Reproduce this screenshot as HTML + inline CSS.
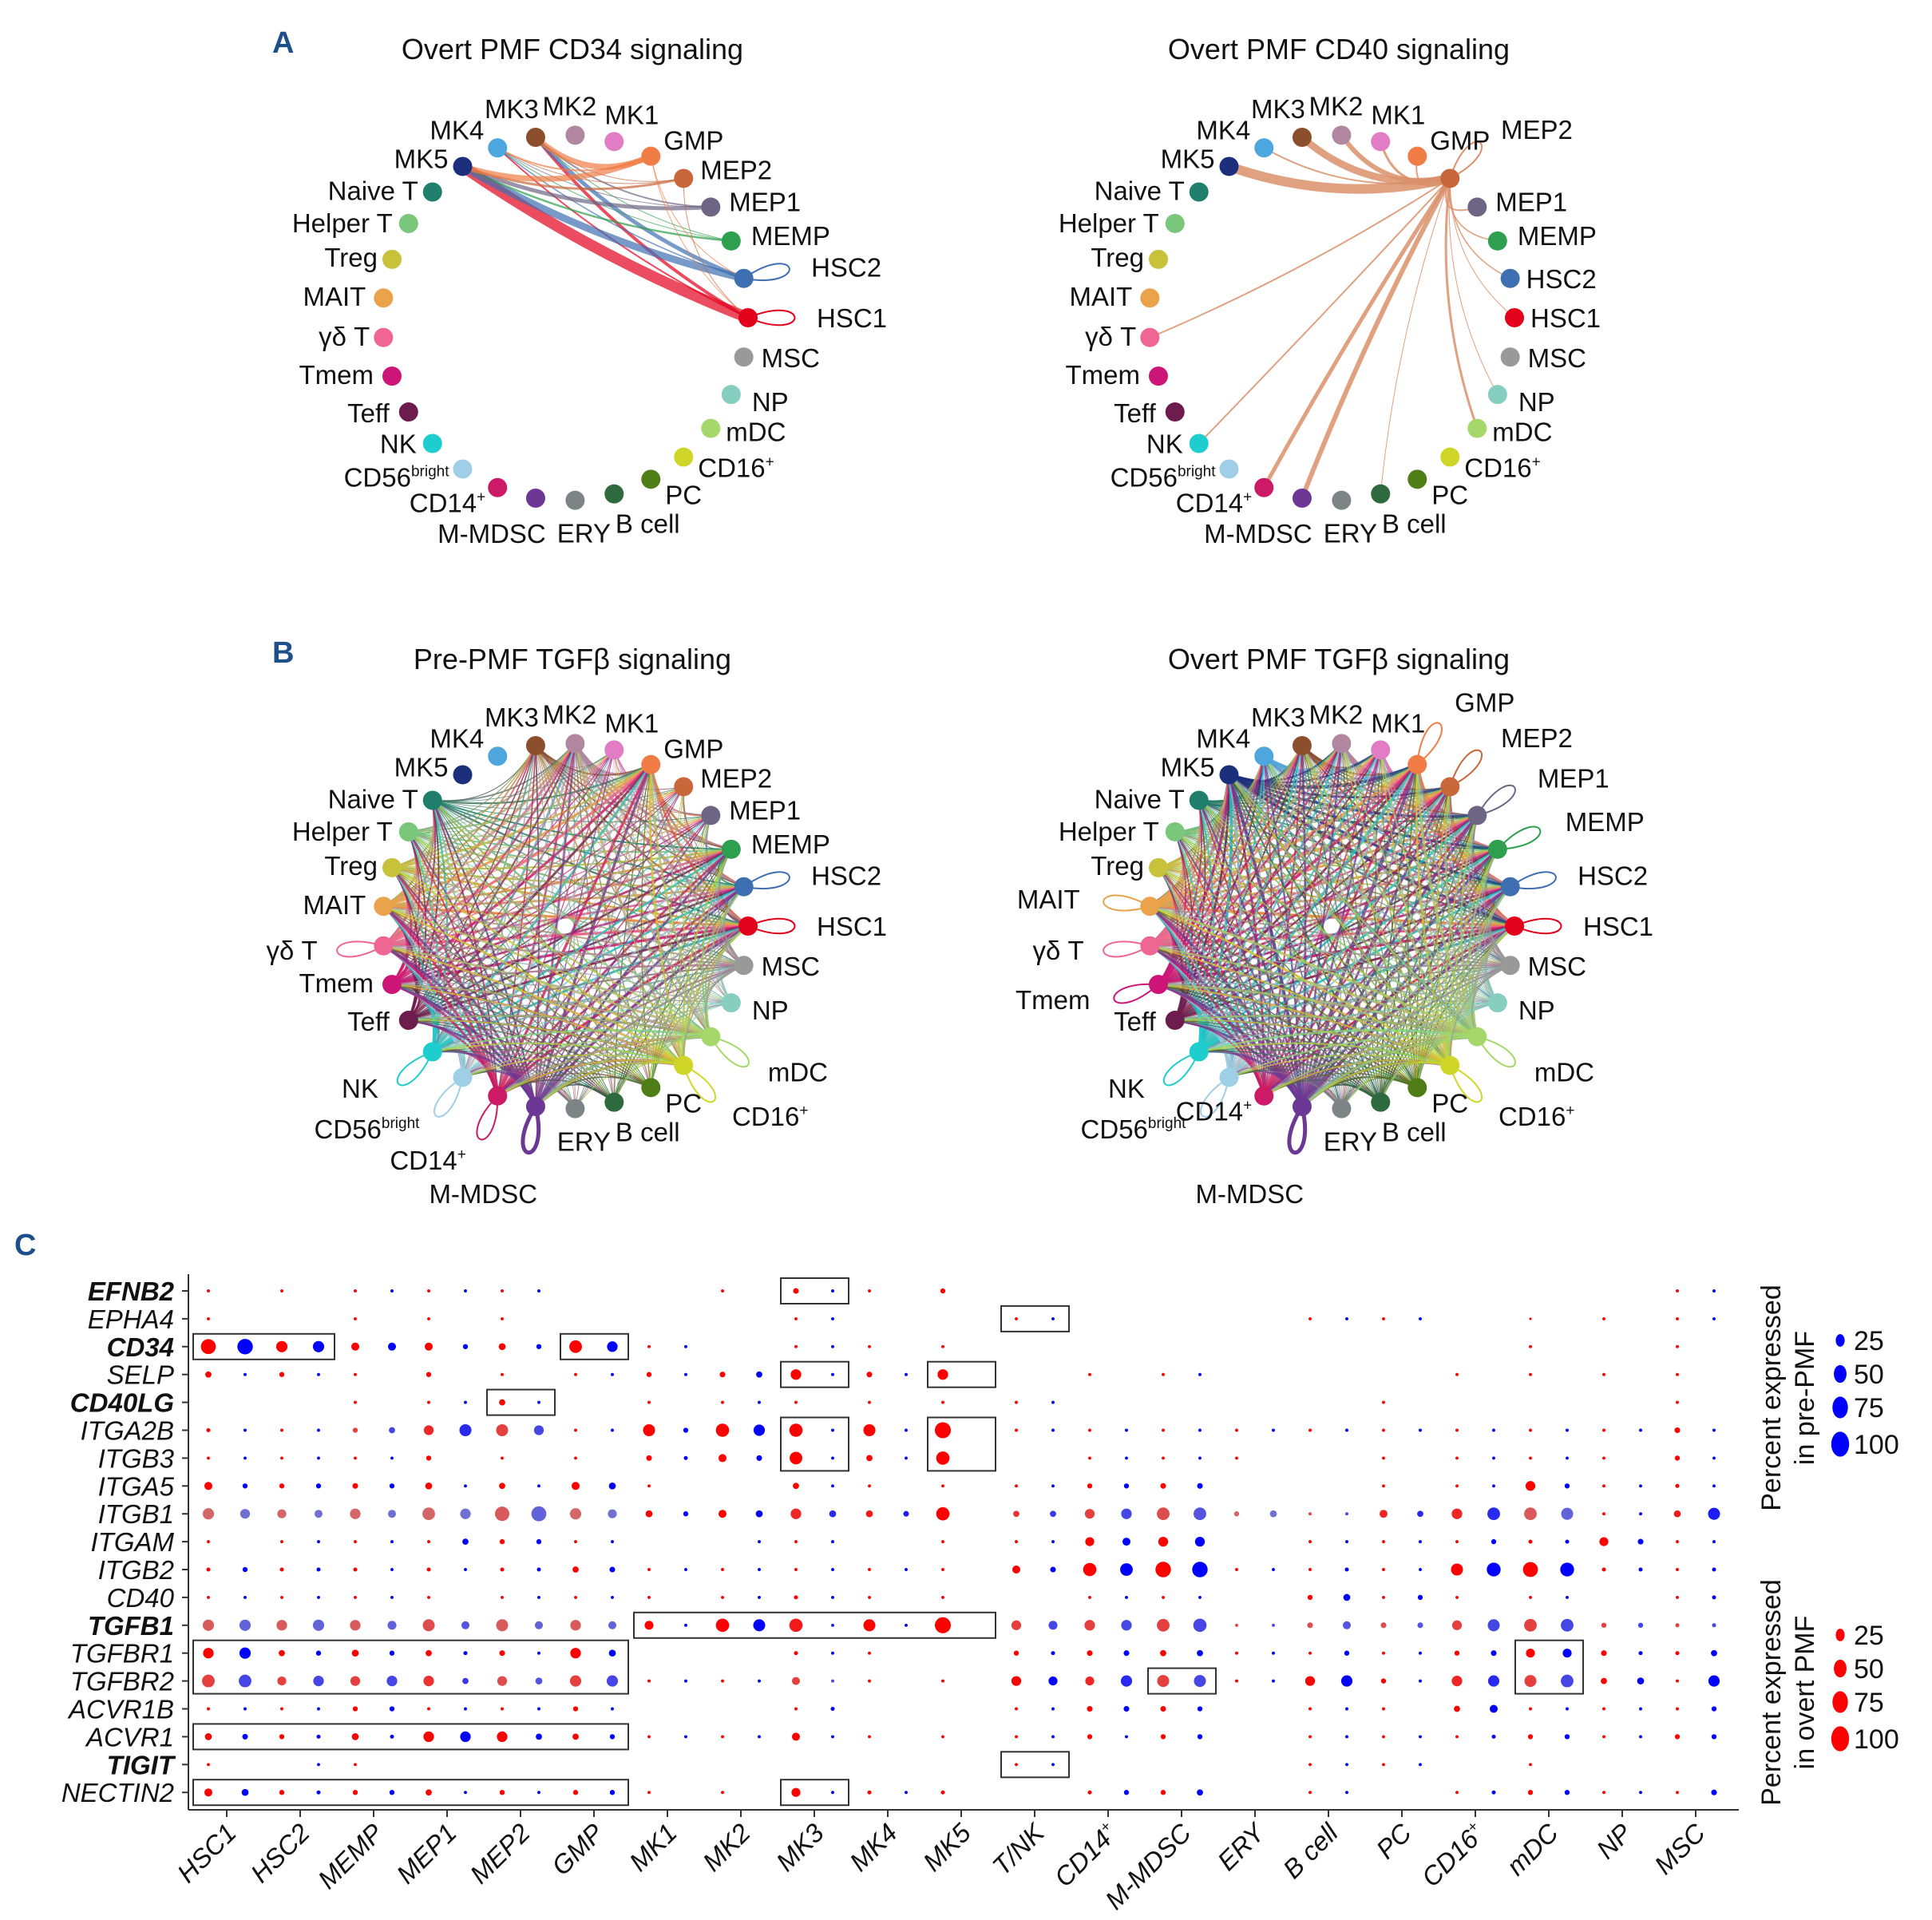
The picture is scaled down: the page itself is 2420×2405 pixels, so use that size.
<!DOCTYPE html>
<html><head><meta charset="utf-8">
<style>
html,body{margin:0;padding:0;background:#fff;}
svg{display:block;font-family:"Liberation Sans",Arial,sans-serif;}
</style></head>
<body>
<svg id="fig" xmlns="http://www.w3.org/2000/svg" width="2420" height="2405" viewBox="0 0 2420 2405">
<rect x="0" y="0" width="2420" height="2405" fill="#fff"/>
<g id="netLayer"></g>
<g id="dotLayer"></g>
</svg>
<script>
// ===== Network data =====
const cellNames = ["HSC1","HSC2","MEMP","MEP1","MEP2","GMP","MK1","MK2","MK3","MK4","MK5","Naive T","Helper T","Treg","MAIT","γδ T","Tmem","Teff","NK","CD56|bright","CD14|+","M-MDSC","ERY","B cell","PC","CD16|+","mDC","NP","MSC"];
const cellColors = ["#e3001b","#3e6fb0","#2e9e4f","#6e6585","#c8673a","#f07c46","#e07dc4","#b0879f","#8b4f2e","#4ea6df","#1c2f7c","#1f7f6a","#78c77a","#c8c23a","#eaa34a","#ef6692","#cc1577","#6c1d4d","#1ecdcd","#9fcfe6","#cd1a66","#6c3795","#7c8486","#2e6a3d","#4f7d16","#cfd628","#a4d86b","#86cec0","#999999"];
// label placement relative to node (layout, not data)
const labDX = [20,20,25,23,21,16,22,-7,-30,-17,-18,-18,-20,-18,-22,-17,-23,-24,-20,-17,-15,-55,11,42,18,18,19,26,22];
const labDY = [12,12,5,5,1,-8,-22,-25,-24,-11,2,10,11,9,10,10,10,13,12,22,31,56,53,49,31,25,16,21,13];
const labAnchor = ["start","start","start","start","start","start","middle","middle","middle","end","end","end","end","end","end","end","end","end","end","end","end","middle","middle","middle","start","start","start","start","start"];
// CD34 edges: from, to, width
const cd34From = [0,0,0,1,1,1,2,2,2,3,3,3,4,4,4,5,5,5,5,5,4];
const cd34To   = [10,8,9,10,8,9,10,8,9,10,8,9,10,8,9,10,8,9,0,1,0];
const cd34W    = [14,4,2,9,5,1.5,2.5,1,1,5,2,1,3,1,1,7,7,2,1,1,1];
const cd34Loops = [1,0];
// CD40 edges from MEP2
const cd40From = [4,4,4,4,4,4,4,4,4,4,4,4,4,4,4,4,4];
const cd40To   = [10,9,8,7,6,5,3,2,1,0,27,26,23,21,20,18,15];
const cd40W    = [12,2,9,6,3,2,2,1.5,1.5,1,1,3,1,6,5,2,2];
const cd40Loops = [4];
// TGFb pre / overt sender & receiver strengths
const preSend = [.6,.5,.6,.2,.2,.8,.3,1,.5,0,0,.6,.6,.7,.9,.9,.9,.8,.8,.6,.9,.9,.2,.3,.3,.6,.6,.3,.5];
const preRecv = [1,.8,.8,.4,.3,.9,.3,.4,.3,0,0,.5,.5,.6,.8,.9,.8,.7,.8,.6,.8,.9,.3,.4,.4,.8,.8,.3,.6];
const preLoops = [0,1,15,18,19,20,21,25,26];
const overtSend = [.8,.6,.6,.6,.6,.9,.5,.5,.5,.6,1,.5,.5,.5,.9,.8,.9,.7,.9,.6,.7,1,.3,.4,.4,.6,.8,.4,.5];
const overtRecv = [1,.8,.8,.8,.7,1,.6,.6,.6,.5,.8,.5,.5,.4,.9,.8,.9,.7,.8,.6,.7,1,.4,.4,.5,.8,1,.4,.5];
const overtLoops = [5,4,3,2,1,0,14,15,16,18,19,21,26,25];

const NS = "http://www.w3.org/2000/svg";
function mk(tag, attrs, parent){const e=document.createElementNS(NS,tag);for(const k in attrs)e.setAttribute(k,attrs[k]);if(parent)parent.appendChild(e);return e;}
const net = document.getElementById('netLayer');

function nodePos(cx,cy,i){const a=i*2*Math.PI/29;return [cx+229*Math.cos(a), cy-229*Math.sin(a), a];}
function edgePath(cx,cy,p,q){const mx=(p[0]+q[0])/2,my=(p[1]+q[1])/2;const kx=mx+(cx-mx)*0.22,ky=my+(cy-my)*0.22;return `M${p[0]},${p[1]} Q${kx},${ky} ${q[0]},${q[1]}`;}
function loopPath(cx,cy,i,L){const p=nodePos(cx,cy,i);const dx=Math.cos(p[2]),dy=-Math.sin(p[2]);const px=-dy,py=dx;
  const a=[p[0]+dx*L+px*32,p[1]+dy*L+py*32],b=[p[0]+dx*L-px*32,p[1]+dy*L-py*32];
  return `M${p[0]},${p[1]} C${a[0]},${a[1]} ${b[0]},${b[1]} ${p[0]},${p[1]}`;}

function drawPanel(opt){
  const g = mk('g',{},net);
  
  
  const t = mk('text',{x:opt.cx+9,y:opt.titleY,'font-size':36,'text-anchor':'middle',fill:'#111'},g);
  
  
  t.textContent = opt.title;
  if(opt.letter){const l=mk('text',{x:opt.cx-367,y:opt.titleY-8,'font-size':38,'font-weight':'bold',fill:'#1d4f8a'},g);
    
    
    l.textContent=opt.letter;}
  const eg = mk('g',{fill:'none','stroke-linecap':'round'},g);
  
  
  opt.edges.forEach(e=>{
    const p=nodePos(opt.cx,opt.cy,e[0]), q=nodePos(opt.cx,opt.cy,e[1]);
    const path=mk('path',{d:edgePath(opt.cx,opt.cy,p,q),stroke:opt.edgeColor||cellColors[e[0]],'stroke-width':e[2],'stroke-opacity':opt.op||0.65},eg);
    
    
  });
  opt.loops.forEach(i=>{
    const lp=mk('path',{d:loopPath(opt.cx,opt.cy,i,78),fill:'none',stroke:opt.edgeColor||cellColors[i],'stroke-width':i===21?5:2},eg);
    
    
  });
  for(let i=0;i<29;i++){
    const p=nodePos(opt.cx,opt.cy,i);
    const c=mk('circle',{cx:p[0],cy:p[1],r:12,fill:cellColors[i]},g);
    
    
    const dx=Math.cos(p[2]),dy=-Math.sin(p[2]);
    const extra = opt.loops.indexOf(i)>=0 ? 66 : 0;
    const lx=p[0]+labDX[i]+dx*extra, ly=p[1]+labDY[i]+dy*extra;
    const tx=mk('text',{x:lx,y:ly,'font-size':33,'text-anchor':labAnchor[i],fill:'#111'},g);
    
    
    const parts=cellNames[i].split('|');
    tx.appendChild(document.createTextNode(parts[0]));
    if(parts[1]){const s=mk('tspan',{'font-size':19,dy:-13},tx);s.textContent=parts[1];}
  }
}
function listEdges(f,t,w){return f.map((v,k)=>[v,t[k],w[k]]);}
function allEdges(s,r){const out=[];for(let i=0;i<29;i++)for(let j=0;j<29;j++){if(i===j)continue;const w=4.2*s[i]*r[j];if(w>0.4)out.push([i,j,w]);}return out;}

drawPanel({name:'panel-a-cd34',title:'Overt PMF CD34 signaling',letter:'A',cx:708,cy:398,titleY:74,edges:listEdges(cd34From,cd34To,cd34W),loops:cd34Loops,op:0.7});
drawPanel({name:'panel-a-cd40',title:'Overt PMF CD40 signaling',cx:1668,cy:398,titleY:74,edges:listEdges(cd40From,cd40To,cd40W),loops:cd40Loops,edgeColor:'#d9906a',op:0.85});
drawPanel({name:'panel-b-pre-tgfb',title:'Pre-PMF TGFβ signaling',letter:'B',cx:708,cy:1160,titleY:838,edges:allEdges(preSend,preRecv),loops:preLoops,op:0.7});
drawPanel({name:'panel-b-overt-tgfb',title:'Overt PMF TGFβ signaling',cx:1668,cy:1160,titleY:838,edges:allEdges(overtSend,overtRecv),loops:overtLoops,op:0.7});
</script>
<script>
// ===== Dot plot data =====
const genes = ["EFNB2","EPHA4","CD34","SELP","CD40LG","ITGA2B","ITGB3","ITGA5","ITGB1","ITGAM","ITGB2","CD40","TGFB1","TGFBR1","TGFBR2","ACVR1B","ACVR1","TIGIT","NECTIN2"];
const boldGenes = ["EFNB2","CD34","CD40LG","TGFB1","TIGIT"];
const groups = ["HSC1","HSC2","MEMP","MEP1","MEP2","GMP","MK1","MK2","MK3","MK4","MK5","T/NK","CD14|+","M-MDSC","ERY","B cell","PC","CD16|+","mDC","NP","MSC"];
const pctOvert = [
[3,3,3,3,3,0,0,3,10,3,8,0,0,0,0,0,0,0,0,0,3],
[3,0,3,3,3,0,0,0,3,0,0,3,0,0,0,3,3,0,2,3,3],
[70,40,20,20,15,50,3,0,3,3,3,0,0,0,0,0,0,0,3,0,3],
[12,8,3,8,3,3,8,10,35,10,35,0,3,3,0,0,0,3,3,3,3],
[0,0,3,3,12,0,3,3,3,3,3,3,0,0,0,0,3,0,0,0,3],
[5,3,8,30,45,3,45,55,55,45,80,3,3,3,3,3,3,3,3,3,10],
[3,3,3,8,3,3,10,20,50,12,55,0,3,3,3,0,3,3,3,3,8],
[20,8,10,15,12,20,3,0,12,3,3,3,8,10,0,0,3,3,30,3,5],
[40,25,35,50,65,40,15,20,35,15,55,12,30,50,8,3,20,35,50,3,15],
[3,3,3,3,8,3,0,0,3,0,3,3,25,30,0,3,3,3,5,25,3],
[5,5,5,5,5,12,3,3,3,3,3,20,55,75,3,3,3,45,70,5,3],
[3,3,3,3,3,3,3,3,5,3,3,0,3,3,0,8,3,3,3,0,3],
[40,35,35,45,45,35,25,55,55,45,80,30,35,50,3,10,10,30,50,8,5],
[35,12,15,12,10,35,0,0,5,3,0,8,10,12,3,3,3,8,25,10,5],
[50,25,30,35,30,40,3,3,20,3,3,30,25,45,3,30,8,35,45,12,3],
[3,3,8,3,3,8,0,0,3,0,0,3,10,10,0,3,3,12,3,3,3],
[15,8,15,35,35,12,3,3,20,3,3,3,8,8,0,3,3,3,8,3,8],
[3,0,3,0,0,0,0,0,0,0,0,3,0,0,0,3,3,0,3,0,0],
[20,8,8,12,8,8,3,3,25,5,5,0,5,8,0,3,0,3,8,3,3]];
const pctPre = [
[0,0,3,3,3,0,0,0,3,0,0,0,0,0,0,0,0,0,0,0,3],
[0,0,0,0,0,0,0,0,3,0,0,3,0,0,0,3,3,0,0,0,3],
[75,40,20,8,8,35,3,0,3,0,0,0,0,0,0,0,0,0,0,0,0],
[3,3,0,0,0,3,3,12,3,3,0,0,0,3,0,0,0,0,0,0,0],
[0,0,0,3,3,0,0,3,0,0,0,3,0,0,0,0,0,0,0,0,0],
[3,3,12,45,30,3,8,40,3,3,0,3,3,3,3,3,3,3,3,3,3],
[3,3,3,0,0,0,5,10,3,3,0,0,3,3,0,0,0,3,3,0,3],
[8,8,8,3,3,15,0,0,3,0,0,3,8,10,0,0,0,3,8,3,3],
[30,20,20,35,70,25,8,15,15,10,0,12,35,50,15,3,12,50,45,3,45],
[0,3,3,12,8,3,0,3,3,0,0,3,20,30,0,3,3,8,5,10,3],
[8,5,3,3,5,10,3,3,3,3,0,10,50,75,3,5,3,60,60,5,5],
[3,3,3,0,3,3,0,3,3,0,0,0,3,3,0,15,8,0,3,0,5],
[40,40,25,20,20,20,3,45,3,3,0,25,35,55,3,20,10,45,50,8,5],
[40,8,8,5,3,15,0,0,3,0,0,5,10,12,3,8,3,10,25,5,12],
[50,35,35,12,15,40,3,3,3,0,0,25,40,45,3,40,3,40,50,15,40],
[3,3,8,3,3,3,0,0,5,0,0,3,10,8,0,3,0,20,3,3,8],
[10,5,5,35,12,8,3,3,3,0,0,3,3,8,0,3,3,5,8,3,8],
[0,3,0,0,0,0,0,0,0,0,0,3,0,0,0,3,3,0,0,0,0],
[15,5,8,3,3,8,0,0,3,3,0,0,8,12,0,3,0,5,8,3,10]];
// lower average expression (0 = bright, 1 = greyed)
const muteITGA2B = [0,0,.5,.3,.5,0,0,0,0,0,0,0,0,0,0,0,0,0,0,0,0];
const muteITGB1  = [.8,.8,.8,.8,.7,.8,0,0,.3,.2,0,.4,.5,.6,.8,.5,.3,.3,.7,0,.2];
const muteTGFB1  = [.7,.7,.7,.6,.7,.7,0,0,.2,0,0,.5,.5,.5,.5,.6,.6,.5,.5,.5,.5];
const muteTGFBR2 = [.5,.5,.5,.4,.6,.5,0,0,.5,0,0,0,.3,.5,0,0,0,.3,.5,0,0];
const muteRows = {5:muteITGA2B,8:muteITGB1,12:muteTGFB1,14:muteTGFBR2};
// highlight boxes: rowStart,rowEnd,groupStart,groupEnd
const boxRowStart = [0,1,2,2,3,3,4,5,5,12,13,14,13,16,17,18,18];
const boxRowEnd   = [0,1,2,2,3,3,4,6,6,12,14,14,14,16,17,18,18];
const boxGrpStart = [8,11,0,5,8,10,4,8,10,6,0,13,18,0,11,0,8];
const boxGrpEnd   = [8,11,1,5,8,10,4,8,10,10,5,13,18,5,11,5,8];
const legendPct = [25,50,75,100];

const dl = document.getElementById('dotLayer');
const xS = g => 284 + g*92;
const yS = r => 1617 + r*34.9;
const rS = p => p<=0?0:Math.max(1.3, 11.2*Math.sqrt(p/100));
function mix(a,b,t){return '#'+[0,1,2].map(k=>{const v=Math.round(a[k]+(b[k]-a[k])*t);return v.toString(16).padStart(2,'0');}).join('');}

const cl = mk('text',{x:18,y:1572,'font-size':38,'font-weight':'bold',fill:'#1d4f8a'},dl);


cl.textContent='C';

const ya = mk('line',{x1:236,y1:1596,x2:236,y2:2267,stroke:'#333','stroke-width':2},dl);


const xa = mk('line',{x1:236,y1:2267,x2:2178,y2:2267,stroke:'#333','stroke-width':2},dl);



genes.forEach((gname,r)=>{
  const y=yS(r);
  mk('line',{x1:228,y1:y,x2:236,y2:y,stroke:'#333','stroke-width':2},dl);
  const t=mk('text',{x:218,y:y+12,'font-size':33,'font-style':'italic','text-anchor':'end',fill:'#111','font-weight':boldGenes.includes(gname)?'bold':'normal'},dl);
  
  
  t.textContent=gname;
});
groups.forEach((gn,g)=>{
  const x=xS(g);
  mk('line',{x1:x,y1:2267,x2:x,y2:2276,stroke:'#333','stroke-width':2},dl);
  const t=mk('text',{x:x+14,y:2298,'font-size':33,'font-style':'italic','text-anchor':'end',fill:'#111',transform:`rotate(-45 ${x+14} 2298)`},dl);
  
  
  const parts=gn.split('|');
  t.appendChild(document.createTextNode(parts[0]));
  if(parts[1]){const s=mk('tspan',{'font-size':19,dy:-13},t);s.textContent=parts[1];}
});
boxRowStart.forEach((rs,k)=>{
  const x1=xS(boxGrpStart[k])-42, x2=xS(boxGrpEnd[k])+43, y1=yS(rs)-16, y2=yS(boxRowEnd[k])+16;
  const b=mk('rect',{x:x1,y:y1,width:x2-x1,height:y2-y1,fill:'none',stroke:'#333','stroke-width':2},dl);
  
  
});
genes.forEach((gname,r)=>{
  for(let g=0;g<groups.length;g++){
    const m = muteRows[r] ? muteRows[r][g] : 0;
    const ro = rS(pctOvert[r][g]);
    if(ro>0){const c=mk('circle',{cx:xS(g)-23,cy:yS(r),r:ro,fill:mix([255,0,0],[200,128,128],m)},dl);
      
      }
    const rp = rS(pctPre[r][g]);
    if(rp>0){const c=mk('circle',{cx:xS(g)+23,cy:yS(r),r:rp,fill:mix([0,0,255],[140,140,200],m)},dl);
      
      }
  }
});
function legend(cy,title2,color,name){
  const lg=mk('g',{},dl);
  
  
  const t1=mk('text',{x:2230,y:cy,'font-size':34,'text-anchor':'middle',fill:'#111',transform:`rotate(-90 2230 ${cy})`},lg);
  
  
  t1.textContent='Percent expressed';
  const t2=mk('text',{x:2272,y:cy,'font-size':34,'text-anchor':'middle',fill:'#111',transform:`rotate(-90 2272 ${cy})`},lg);
  
  
  t2.textContent=title2;
  legendPct.forEach((p,k)=>{
    const y=cy-72+k*42+(k===3?4:0);
    const e=mk('ellipse',{cx:2305,cy:y,rx:rS(p),ry:rS(p)*1.4,fill:color},lg);
    
    
    const tx=mk('text',{x:2322,y:y+12,'font-size':34,fill:'#111'},lg);
    
    
    tx.textContent=p;
  });
}
legend(1751,'in pre-PMF','#0000ff','legend-pre-pmf');
legend(2120,'in overt PMF','#ff0000','legend-overt-pmf');
</script>
</body></html>
